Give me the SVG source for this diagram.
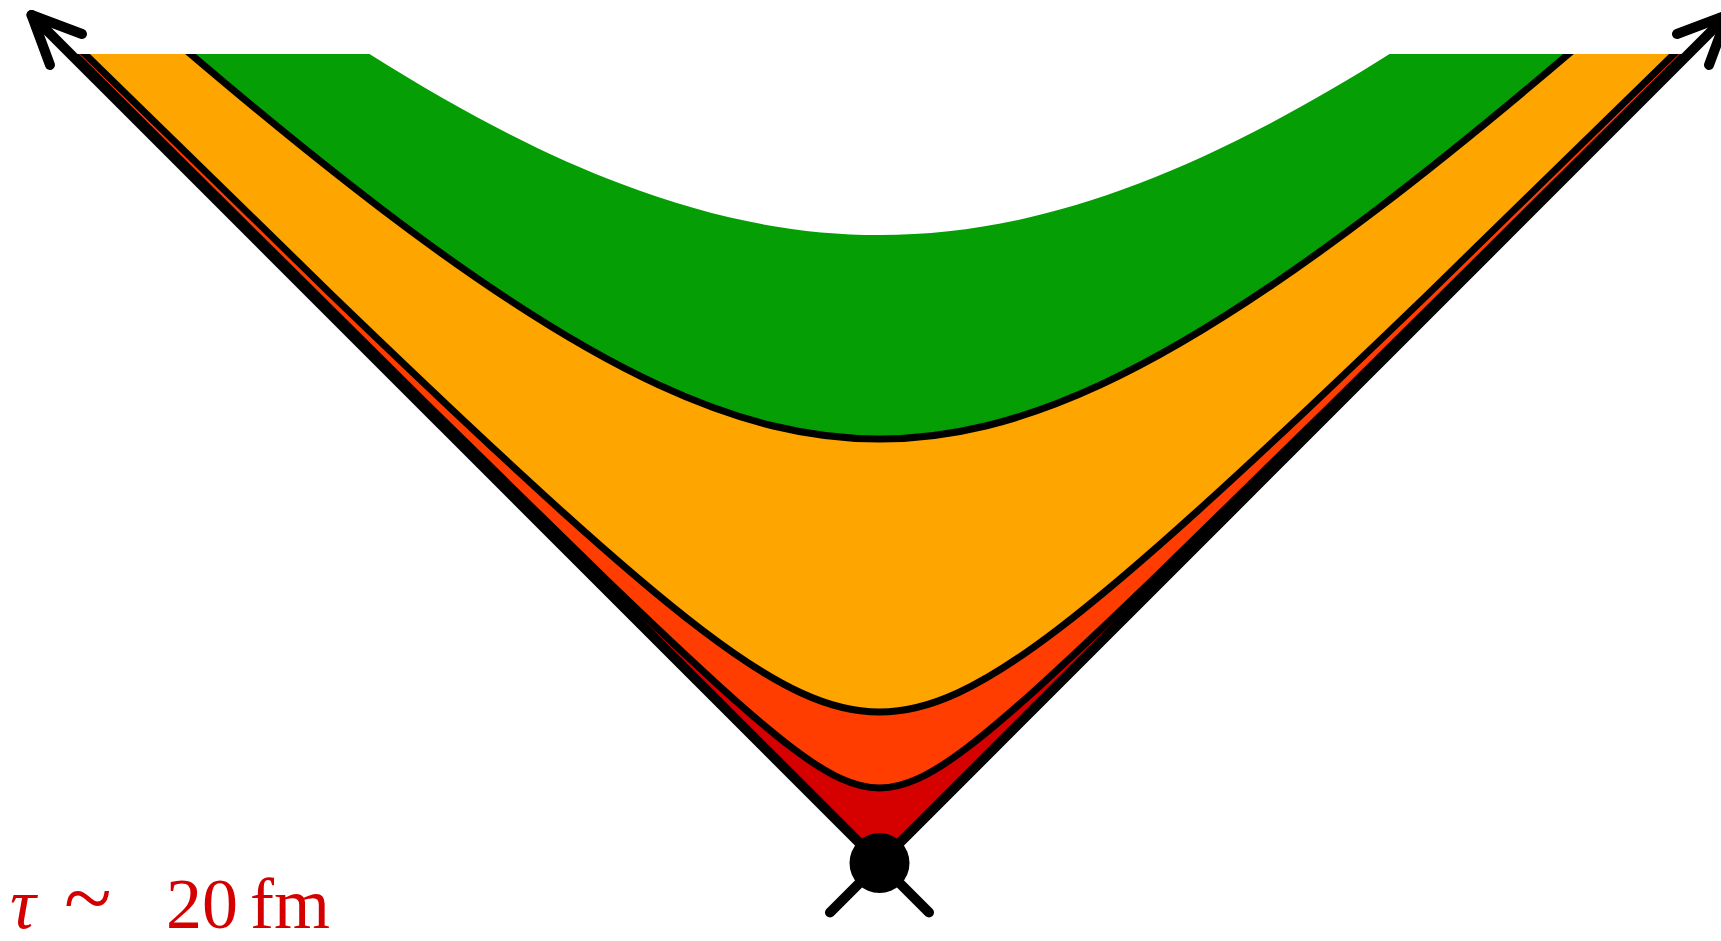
<svg xmlns="http://www.w3.org/2000/svg" width="1721" height="941" viewBox="0 0 1721 941">
<style>
.curve{fill:none;stroke:#000;stroke-width:7}
.cone{fill:none;stroke:#000;stroke-width:10;stroke-linecap:round;stroke-linejoin:round}
.lbl{font-family:"Liberation Serif","Times New Roman",serif;font-size:72px;fill:#D40000}
</style>
<defs>
<clipPath id="top"><rect x="0" y="54" width="1721" height="900"/></clipPath>
<path id="h75" d="M48.77,28.89 C215.59,195.04 333.75,312.33 425.73,403.08 C502.38,478.71 560.46,535.50 607.49,580.83 C654.52,626.17 690.39,659.95 719.80,686.57 C749.20,713.19 772.07,732.58 791.36,747.27 C810.65,761.96 826.32,771.92 840.42,778.43 C854.51,784.94 867.0,788 879.5,788 C892,788 904.49,784.94 918.58,778.43 C932.68,771.92 948.35,761.96 967.64,747.27 C986.93,732.58 1009.80,713.19 1039.20,686.57 C1068.61,659.95 1104.48,626.17 1151.51,580.83 C1198.54,535.50 1256.62,478.71 1333.27,403.08 C1425.25,312.33 1543.41,195.04 1710.23,28.89"/>
<path id="h151" d="M54.10,23.90 C165.98,133.95 256.09,221.89 331.84,294.91 C426.52,386.19 498.78,454.20 557.98,507.79 C617.18,561.38 663.20,600.41 702.04,629.99 C740.87,659.57 772.43,679.62 800.81,692.73 C829.19,705.85 854.33,712 879.5,712 C904.67,712 929.81,705.85 958.19,692.73 C986.57,679.62 1018.13,659.57 1056.96,629.99 C1095.80,600.41 1141.82,561.38 1201.02,507.79 C1260.22,454.20 1332.48,386.19 1427.16,294.91 C1502.91,221.89 1593.02,133.95 1704.90,23.90"/>
<path id="h424" d="M159.39,27.33 C242.96,99.34 315.79,158.90 381.22,208.73 C490.26,291.78 578.86,348.06 658.55,384.88 C738.24,421.71 808.83,439 879.5,439 C950.17,439 1020.76,421.71 1100.45,384.88 C1180.14,348.06 1268.74,291.78 1377.78,208.73 C1443.21,158.90 1516.04,99.34 1599.61,27.33"/>
</defs>
<g id="regions" clip-path="url(#top)">
<polygon id="region-dark" points="879.5,863 40.5,24 1718.5,24" fill="#D50000"/>
<g id="region-redorange"><path d="M48.77,28.89 C215.59,195.04 333.75,312.33 425.73,403.08 C502.38,478.71 560.46,535.50 607.49,580.83 C654.52,626.17 690.39,659.95 719.80,686.57 C749.20,713.19 772.07,732.58 791.36,747.27 C810.65,761.96 826.32,771.92 840.42,778.43 C854.51,784.94 867.0,788 879.5,788 C892,788 904.49,784.94 918.58,778.43 C932.68,771.92 948.35,761.96 967.64,747.27 C986.93,732.58 1009.80,713.19 1039.20,686.57 C1068.61,659.95 1104.48,626.17 1151.51,580.83 C1198.54,535.50 1256.62,478.71 1333.27,403.08 C1425.25,312.33 1543.41,195.04 1710.23,28.89 L1710.23,0 L48.77,0 Z" fill="#FF3D00"/></g>
<g id="region-orange"><path d="M54.10,23.90 C165.98,133.95 256.09,221.89 331.84,294.91 C426.52,386.19 498.78,454.20 557.98,507.79 C617.18,561.38 663.20,600.41 702.04,629.99 C740.87,659.57 772.43,679.62 800.81,692.73 C829.19,705.85 854.33,712 879.5,712 C904.67,712 929.81,705.85 958.19,692.73 C986.57,679.62 1018.13,659.57 1056.96,629.99 C1095.80,600.41 1141.82,561.38 1201.02,507.79 C1260.22,454.20 1332.48,386.19 1427.16,294.91 C1502.91,221.89 1593.02,133.95 1704.90,23.90 L1704.90,0 L54.10,0 Z" fill="#FFA500"/></g>
<g id="region-green"><path d="M159.39,27.33 C242.96,99.34 315.79,158.90 381.22,208.73 C490.26,291.78 578.86,348.06 658.55,384.88 C738.24,421.71 808.83,439 879.5,439 C950.17,439 1020.76,421.71 1100.45,384.88 C1180.14,348.06 1268.74,291.78 1377.78,208.73 C1443.21,158.90 1516.04,99.34 1599.61,27.33 L1599.61,0 L159.39,0 Z" fill="#059F05"/></g>
<g id="region-white"><path d="M321.77,23.09 C433.76,97.45 531.03,149.70 621.55,184.09 C712.07,218.48 795.77,235 879.5,235 C963.23,235 1046.93,218.48 1137.45,184.09 C1227.97,149.70 1325.24,97.45 1437.23,23.09 L1437.23,0 L321.77,0 Z" fill="#FFFFFF"/></g>
<g id="curves">
<use href="#h75" class="curve"/>
<use href="#h151" class="curve"/>
<use href="#h424" class="curve"/>
</g>
</g>
<g id="connectors">
<path class="cone" d="M879.5,863 L31.5,15"/>
<path class="cone" d="M82,34 L31.5,15 L50,65"/>
<path class="cone" d="M879.5,863 L1727.5,15"/>
<path class="cone" d="M1677,34 L1727.5,15 L1709,65"/>
<path class="cone" d="M879.5,863 L830,912.5"/>
<path class="cone" d="M879.5,863 L929,912.5"/>
</g>
<g id="event">
<circle cx="879.5" cy="863" r="30" fill="#000"/>
</g>
<g id="label">
<text class="lbl" y="928"><tspan x="10" font-style="italic">τ</tspan><tspan x="64" font-size="88px">~</tspan><tspan x="166">20</tspan><tspan x="250">fm</tspan></text>
</g>
</svg>
